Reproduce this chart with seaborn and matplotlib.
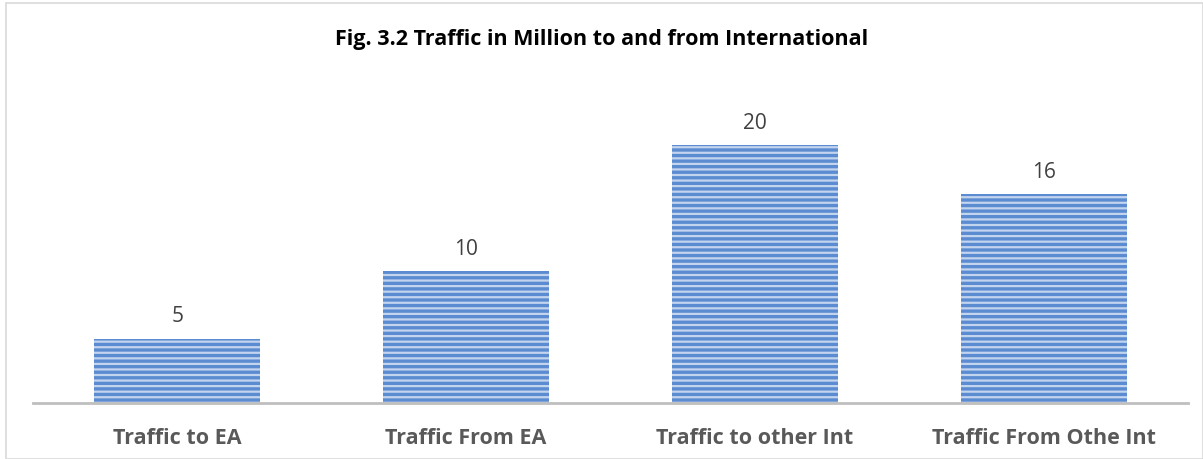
import numpy as np
import pandas as pd
import matplotlib
matplotlib.use("Agg")
import matplotlib.pyplot as plt
import seaborn as sns
from matplotlib.patches import Rectangle

categories = ["Traffic to EA", "Traffic From EA", "Traffic to other Int", "Traffic From Othe Int"]
traffic = [5.0, 10.2, 20.0, 16.2]
labels = ["5", "10", "20", "16"]

df = pd.DataFrame({"category": categories, "traffic": traffic})

sns.set_theme(style="white")
plt.rcParams["font.family"] = ["Open Sans", "DejaVu Sans"]
plt.rcParams["hatch.linewidth"] = 1.6

fig = plt.figure(figsize=(12.03, 4.59), dpi=100)
ax = fig.add_axes([33 / 1203, 56 / 459, 1155 / 1203, 343 / 459])

sns.barplot(data=df, x="category", y="traffic", color="#5b8bd0",
            width=0.575, saturation=1, ax=ax)

for bar in ax.patches:
    bar.set_hatch("---")
    bar.set_edgecolor("#c3d4ee")
    bar.set_linewidth(0)

for bar, lab in zip(ax.patches, labels):
    ax.text(bar.get_x() + bar.get_width() / 2, bar.get_height() + 0.9, lab,
            ha="center", va="bottom", fontsize=15, color="#404040")

ax.set_ylim(0, 26.6)
ax.set_xlim(-0.5, 3.5)
ax.set_yticks([])
ax.set_xlabel("")
ax.set_ylabel("")
for side in ["top", "left", "right"]:
    ax.spines[side].set_visible(False)
ax.spines["bottom"].set_color("#bfbfbf")
ax.spines["bottom"].set_linewidth(2)
ax.tick_params(axis="x", length=0, pad=18)
for t in ax.get_xticklabels():
    t.set_fontsize(15.5)
    t.set_fontweight("bold")
    t.set_color("#595959")

fig.text(0.5, 1 - 39 / 459, "Fig. 3.2 Traffic in Million to and from International",
         ha="center", va="center", fontsize=15.5, fontweight="bold", color="#000000")

fig.patches.append(Rectangle((6 / 1203, 0), 1 - 6 / 1203, 1 - 3 / 459,
                             transform=fig.transFigure, fill=False,
                             edgecolor="#d9d9d9", linewidth=1.2))

fig.savefig("out.png", dpi=100)
